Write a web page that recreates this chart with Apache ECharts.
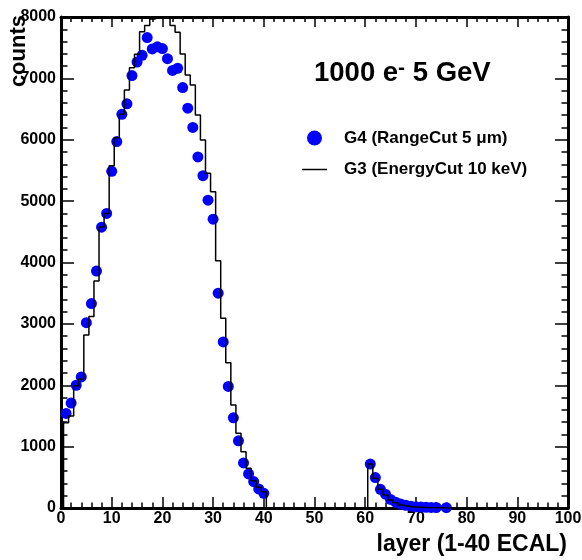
<!DOCTYPE html>
<html>
<head>
<meta charset="utf-8">
<script src="https://cdn.jsdelivr.net/npm/echarts@6/dist/echarts.min.js"></script>
<style>
html,body{margin:0;padding:0;background:#ffffff;}
#chart{width:582px;height:560px;}
</style>
</head>
<body>
<div id="chart"></div>
<script>
// ---- data ----
const xTickValues = [0, 10, 20, 30, 40, 50, 60, 70, 80, 90, 100];
const yTickValues = [0, 1000, 2000, 3000, 4000, 5000, 6000, 7000, 8000];

// G4 (RangeCut 5 um) : blue points
const g4Layers = [1, 2, 3, 4, 5, 6, 7, 8, 9, 10,
  11, 12, 13, 14, 15, 16, 17, 18, 19, 20,
  21, 22, 23, 24, 25, 26, 27, 28, 29, 30,
  31, 32, 33, 34, 35, 36, 37, 38, 39, 40,
  61, 62, 63, 64, 65, 66, 67, 68, 69, 70, 71, 72, 73, 74, 76];
const g4Counts = [1540, 1710, 2000, 2135, 3020, 3330, 3860, 4575, 4800, 5485,
  5970, 6415, 6585, 7045, 7265, 7375, 7665, 7480, 7515, 7485,
  7320, 7130, 7165, 6850, 6515, 6200, 5720, 5415, 5015, 4705,
  3500, 2705, 1980, 1470, 1095, 735, 555, 430, 310, 240,
  715, 495, 305, 225, 140, 95, 65, 45, 30, 20, 15, 12, 10, 8, 5];

// G3 (EnergyCut 10 keV) : black histogram, one value per layer (bin centre)
const g3Layers = [0, 1, 2, 3, 4, 5, 6, 7, 8, 9, 10,
  11, 12, 13, 14, 15, 16, 17, 18, 19, 20,
  21, 22, 23, 24, 25, 26, 27, 28, 29, 30,
  31, 32, 33, 34, 35, 36, 37, 38, 39, 40, 41,
  60, 61, 62, 63, 64, 65, 66, 67, 68, 69, 70, 71, 72, 73, 74, 75, 76, 77, 100];
const g3Counts = [0, 1390, 1500, 1990, 2100, 2820, 3120, 3700, 4580, 4800, 5577,
  6034, 6414, 6811, 7174, 7392, 7760, 7860, 7967, 7990, 8100,
  8080, 7862, 7750, 7397, 7055, 6892, 6403, 5996, 5453, 5154,
  4029, 3091, 2368, 1678, 1217, 918, 647, 445, 337, 266, 0,
  0, 717, 484, 305, 212, 130, 86, 50, 33, 22, 15, 11, 8, 6, 5, 3, 2, 0, 0];

const seriesNames = ['G4 (RangeCut 5 \u03bcm)', 'G3 (EnergyCut 10 keV)'];

// ---- chart ----
const FONT = '"Liberation Sans", Arial, Helvetica, sans-serif';
const chart = echarts.init(document.getElementById('chart'), null, {renderer: 'canvas'});

const xMin = xTickValues[0], xMax = xTickValues[xTickValues.length - 1];
const xStep = xTickValues[1] - xTickValues[0];
const yMin = yTickValues[0], yMax = yTickValues[yTickValues.length - 1];
const yStep = yTickValues[1] - yTickValues[0];

const lineBlack = {color: '#000', width: 3};
const tickStyle = {color: '#000', width: 1.5};
const labelStyle = {fontSize: 16, fontWeight: 'bold', color: '#000', fontFamily: FONT};
const plainNumber = (v) => String(v);

const option = {
  animation: false,
  backgroundColor: '#ffffff',
  grid: {left: 61, right: 14, top: 17, bottom: 52, outerBoundsMode: 'none', containLabel: false},
  title: {
    text: '{a|1000 e}{s|-}{a| 5 GeV}',
    left: 314, top: 58, padding: 0,
    textStyle: {
      rich: {
        a: {fontSize: 27.5, fontWeight: 'bold', color: '#000', fontFamily: FONT, lineHeight: 31},
        s: {fontSize: 21, fontWeight: 'bold', color: '#000', fontFamily: FONT, lineHeight: 12, verticalAlign: 'top'}
      }
    }
  },
  legend: [
    {
      data: [{name: seriesNames[0], icon: 'circle'}],
      left: 307, top: 129.5, orient: 'vertical', padding: 0,
      itemWidth: 25, itemHeight: 15, selectedMode: false,
      itemStyle: {color: '#0000ff', opacity: 1},
      textStyle: {fontSize: 17, fontWeight: 'bold', color: '#000', fontFamily: FONT, padding: [0, 0, 0, 12]}
    },
    {
      data: [{name: seriesNames[1], icon: 'path://M0,0 L25,0 L25,1.5 L0,1.5 Z'}],
      left: 302, top: 161, orient: 'vertical', padding: 0,
      itemWidth: 25, itemHeight: 15, selectedMode: false, symbolKeepAspect: true,
      itemStyle: {color: '#000'},
      textStyle: {fontSize: 17, fontWeight: 'bold', color: '#000', fontFamily: FONT, padding: [0, 0, 0, 12]}
    }
  ],
  xAxis: [
    {
      type: 'value', min: xMin, max: xMax, interval: xStep, position: 'bottom',
      axisLine: {show: true, onZero: false, lineStyle: lineBlack},
      axisTick: {show: true, inside: true, length: 11, lineStyle: tickStyle},
      minorTick: {show: true, splitNumber: 5, length: 5.5, lineStyle: tickStyle},
      splitLine: {show: false},
      axisLabel: Object.assign({margin: 3, showMinLabel: true, showMaxLabel: true, formatter: plainNumber}, labelStyle),
      name: 'layer (1-40 ECAL)', nameLocation: 'end', nameGap: -1, nameMoveOverlap: false,
      nameTextStyle: {fontSize: 23, fontWeight: 'bold', color: '#000', fontFamily: FONT,
        align: 'right', verticalAlign: 'top', padding: [25, 0, 0, 0]}
    },
    {
      type: 'value', min: xMin, max: xMax, interval: xStep, position: 'top',
      axisLine: {show: true, onZero: false, lineStyle: lineBlack},
      axisTick: {show: true, inside: true, length: 10, lineStyle: tickStyle},
      minorTick: {show: true, splitNumber: 5, length: 5, lineStyle: tickStyle},
      splitLine: {show: false},
      axisLabel: {show: false}
    }
  ],
  yAxis: [
    {
      type: 'value', min: yMin, max: yMax, interval: yStep, position: 'left',
      axisLine: {show: true, onZero: false, lineStyle: lineBlack},
      axisTick: {show: true, inside: true, length: 13, lineStyle: tickStyle},
      minorTick: {show: true, splitNumber: 5, length: 6.5, lineStyle: tickStyle},
      splitLine: {show: false},
      axisLabel: Object.assign({margin: 5, showMinLabel: true, showMaxLabel: true, formatter: plainNumber}, labelStyle),
      name: 'counts', nameLocation: 'end', nameRotate: 90, nameGap: 2, nameMoveOverlap: false,
      nameTextStyle: {fontSize: 22, fontWeight: 'bold', color: '#000', fontFamily: FONT,
        align: 'right', verticalAlign: 'bottom', padding: [0, 0, 31, 0]}
    },
    {
      type: 'value', min: yMin, max: yMax, interval: yStep, position: 'right',
      axisLine: {show: true, onZero: false, lineStyle: lineBlack},
      axisTick: {show: true, inside: true, length: 13, lineStyle: tickStyle},
      minorTick: {show: true, splitNumber: 5, length: 6.5, lineStyle: tickStyle},
      splitLine: {show: false},
      axisLabel: {show: false}
    }
  ],
  series: [
    {
      name: seriesNames[0],
      type: 'scatter',
      xAxisIndex: 0, yAxisIndex: 0,
      symbol: 'circle', symbolSize: 11,
      itemStyle: {color: '#0000ff', opacity: 1},
      data: g4Layers.map((x, i) => [x, g4Counts[i]]),
      z: 2
    },
    {
      name: seriesNames[1],
      type: 'line',
      xAxisIndex: 0, yAxisIndex: 0,
      step: 'middle',
      symbol: 'none', showSymbol: false,
      clip: true,
      lineStyle: {color: '#000', width: 1.5},
      itemStyle: {color: '#000'},
      data: g3Layers.map((x, i) => [x, g3Counts[i]]),
      z: 3
    }
  ]
};
chart.setOption(option);
</script>
</body>
</html>
